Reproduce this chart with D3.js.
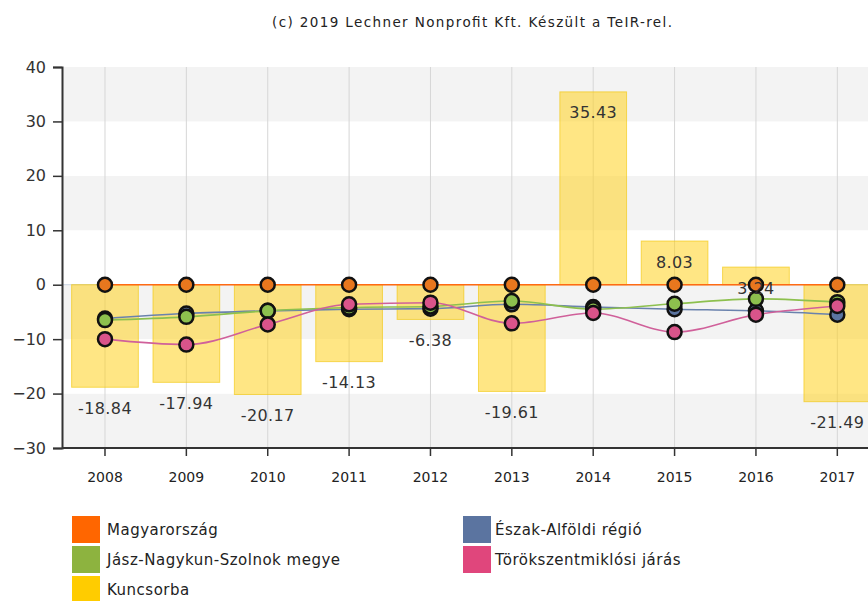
<!DOCTYPE html>
<html><head><meta charset="utf-8">
<script src="https://cdn.jsdelivr.net/npm/d3@7"></script>
<style>
body{margin:0;background:#fff;}
svg{display:block;font-family:"DejaVu Sans",Verdana,sans-serif;}
</style></head>
<body><svg id="c" width="868" height="601"></svg>
<script>
const years = ["2008","2009","2010","2011","2012","2013","2014","2015","2016","2017"];
const magyarorszag = [0,0,0,0,0,0,0,0,0,0];
const eszakAlfoldi = [-6.2,-5.3,-4.8,-4.5,-4.4,-3.6,-4.1,-4.5,-4.8,-5.5];
const jaszNagykun = [-6.5,-5.9,-4.8,-4.2,-4.0,-3.0,-4.5,-3.5,-2.6,-3.2];
const torokszent = [-10.0,-11.0,-7.3,-3.6,-3.3,-7.1,-5.2,-8.7,-5.5,-3.9];
const kuncsorba = [-18.84,-17.94,-20.17,-14.13,-6.38,-19.61,35.43,8.03,3.24,-21.49];
const yTicks = [-30,-20,-10,0,10,20,30,40];
const titleText = "(c) 2019 Lechner Nonprofit Kft. Készült a TeIR-rel.";

const svg = d3.select("#c");
const axisX = 62, bandStart = 64.3, right = 878;
const x = d3.scaleBand().domain(years).range([bandStart, right]).paddingInner(0.18).paddingOuter(0.09);
const y = d3.scaleLinear().domain([-30, 40]).range([448, 67]);
const cx = d => x(d) + x.bandwidth()/2;

// title
svg.append("text").attr("x", 272).attr("y", 22)
  .attr("dominant-baseline","central").attr("font-size",13.5).attr("fill","#222")
  .attr("textLength",400).attr("lengthAdjust","spacing").text(titleText);

// bands
for (let i = 0; i < yTicks.length-1; i++) {
  const a = yTicks[i], b = yTicks[i+1];
  const gray = (i % 2 === 0);
  svg.append("rect").attr("x", axisX).attr("width", right-axisX)
    .attr("y", y(b)).attr("height", y(a)-y(b)).attr("fill", gray ? "#f3f3f3" : "#ffffff");
}
// vertical grid
svg.append("g").selectAll("line").data(years).join("line")
  .attr("x1", d=>cx(d)).attr("x2", d=>cx(d)).attr("y1", y(40)).attr("y2", y(-30))
  .attr("stroke","#d6d6d6").attr("stroke-width",1);
// zero reference
svg.append("line").attr("x1",axisX).attr("x2",right).attr("y1",y(0)).attr("y2",y(0))
  .attr("stroke","#c9d3e3").attr("stroke-width",1);

// bars
svg.append("g").selectAll("rect").data(years).join("rect")
  .attr("x", d=>x(d)).attr("width", x.bandwidth())
  .attr("y", (d,i)=>y(Math.max(0,kuncsorba[i])))
  .attr("height", (d,i)=>Math.abs(y(kuncsorba[i])-y(0)))
  .attr("fill","#ffd21f").attr("fill-opacity",0.55)
  .attr("stroke","#f2c400").attr("stroke-opacity",0.6).attr("stroke-width",1);

// axes
const ya = d3.axisLeft(y).tickValues(yTicks).tickSize(9).tickPadding(7);
const gy = svg.append("g").attr("transform",`translate(${axisX},0)`).call(ya);
gy.select(".domain").attr("stroke","#333").attr("stroke-width",2);
gy.selectAll(".tick line").attr("stroke","#333").attr("stroke-width",1.5);
gy.selectAll(".tick text").attr("font-size",16).attr("fill","#333").attr("font-family","DejaVu Sans");

const xa = d3.axisBottom(x).tickSize(8).tickPadding(16).tickSizeOuter(0);
const gx = svg.append("g").attr("transform",`translate(0,${y(-30)})`).call(xa);
gx.select(".domain").attr("stroke","#333").attr("stroke-width",2).attr("d",`M${axisX},0H${right}`);
gx.selectAll(".tick line").attr("stroke","#333").attr("stroke-width",1.5);
gx.selectAll(".tick text").attr("font-size",14).attr("fill","#222").attr("font-family","DejaVu Sans");

// lines
const series = [
  {name:"Észak-Alföldi régió", vals:eszakAlfoldi, line:"#6a82ad", fill:"#5b74a0"},
  {name:"Jász-Nagykun-Szolnok megye", vals:jaszNagykun, line:"#8dc04e", fill:"#8dc04e"},
  {name:"Törökszentmiklósi járás", vals:torokszent, line:"#d0609a", fill:"#d9548a"},
  {name:"Magyarország", vals:magyarorszag, line:"#ff6a13", fill:"#e8771e"}
];
const lineGen = d3.line().x(d=>cx(d[0])).y(d=>y(d[1])).curve(d3.curveMonotoneX);
series.forEach(s=>{
  svg.append("path").datum(years.map((yr,i)=>[yr,s.vals[i]]))
    .attr("d", lineGen).attr("fill","none").attr("stroke",s.line).attr("stroke-width",1.6);
});
series.forEach(s=>{
  svg.append("g").selectAll("circle").data(years).join("circle")
    .attr("cx", d=>cx(d)).attr("cy",(d,i)=>y(s.vals[i])).attr("r",7)
    .attr("fill",s.fill).attr("stroke","#111").attr("stroke-width",2.5);
});

// bar labels
svg.append("g").selectAll("text").data(years).join("text")
  .attr("x", d=>cx(d)).attr("y",(d,i)=>y(kuncsorba[i])+21)
  .attr("text-anchor","middle").attr("dominant-baseline","central")
  .attr("font-size",16).attr("letter-spacing",0.4).attr("fill","#333")
  .text((d,i)=>kuncsorba[i].toFixed(2));

// legend
const legend = [
  {name:"Magyarország", color:"#ff6600", col:0, row:0},
  {name:"Észak-Alföldi régió", color:"#5b74a0", col:1, row:0},
  {name:"Jász-Nagykun-Szolnok megye", color:"#8db33f", col:0, row:1},
  {name:"Törökszentmiklósi járás", color:"#e0467c", col:1, row:1},
  {name:"Kuncsorba", color:"#ffcc00", col:0, row:2}
];
const lg = svg.append("g").selectAll("g").data(legend).join("g")
  .attr("transform", d=>`translate(${d.col===0?72:463},${516+d.row*30})`);
lg.append("rect").attr("width",28).attr("height",27).attr("fill",d=>d.color);
lg.append("text").attr("x",d=>d.col===0?35:32).attr("y",14).attr("dominant-baseline","central")
  .attr("font-size",15).attr("letter-spacing",0.5).attr("fill","#222").text(d=>d.name);
</script></body></html>
